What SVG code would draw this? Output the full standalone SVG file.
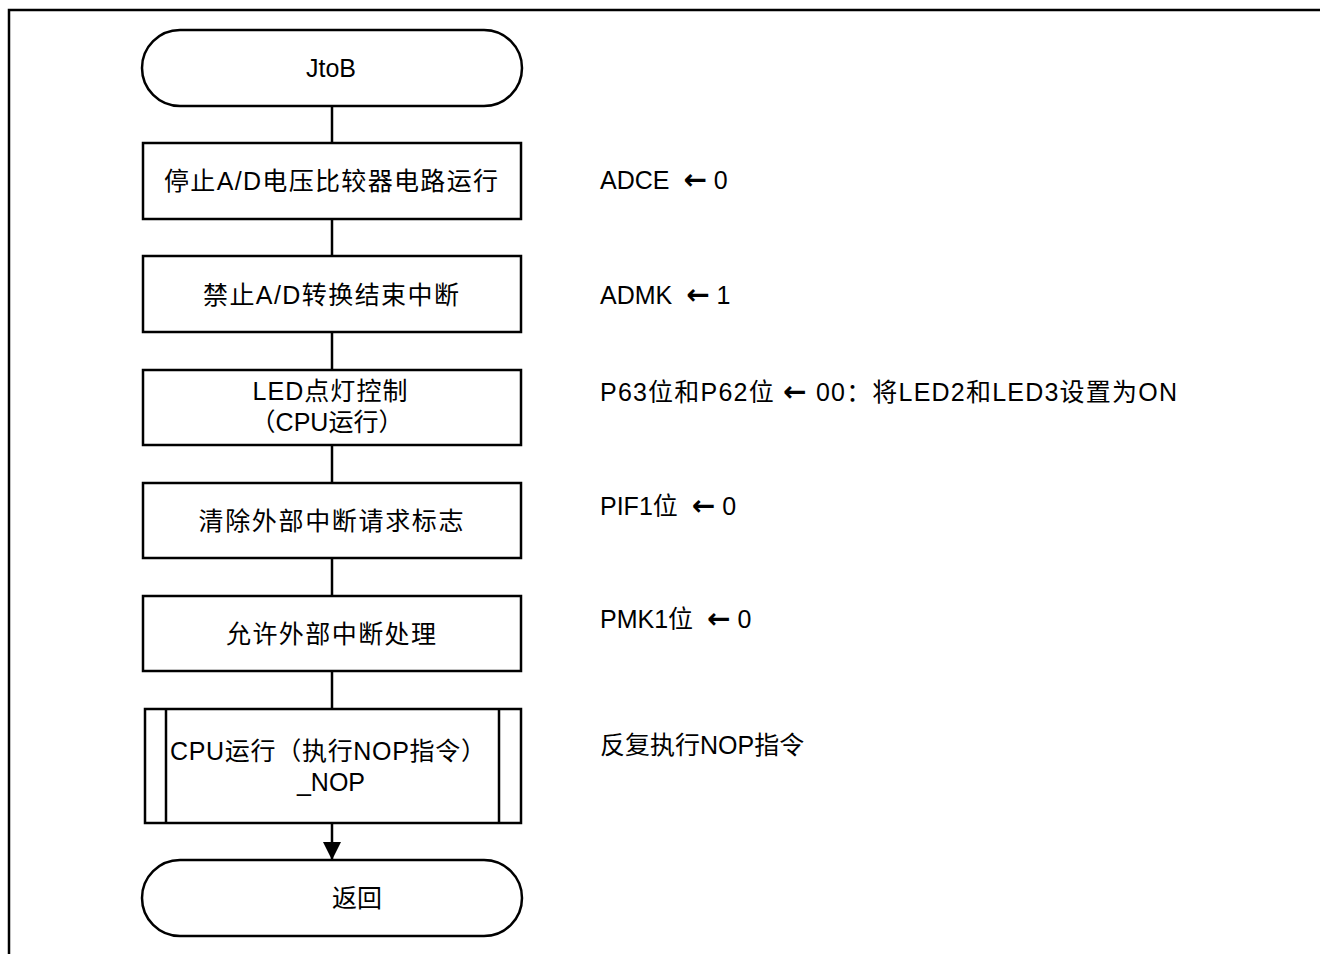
<svg xmlns="http://www.w3.org/2000/svg" width="1320" height="954" viewBox="0 0 1320 954">
<defs>
<style>
.s{fill:#fff;stroke:#000;stroke-width:2.5}
.l{fill:none;stroke:#000;stroke-width:2.5}
text{font-family:"Liberation Sans","Noto Sans CJK SC",sans-serif;font-size:25px;fill:#000}
.c{text-anchor:middle}
.ar{font-family:"DejaVu Sans",sans-serif;font-weight:bold;font-size:28px}
</style>
<marker id="ah" markerWidth="18" markerHeight="18" viewBox="0 0 18 18" refX="18" refY="9" orient="auto" markerUnits="userSpaceOnUse">
<path d="M0,0 L18,9 L0,18 Z" fill="#000"/>
</marker>
</defs>
<rect width="1320" height="954" fill="#fff"/>
<path d="M9,954 V10 H1320" class="l"/>
<g id="connectors">
<line x1="332" y1="106" x2="332" y2="143" class="l"/>
<line x1="332" y1="219" x2="332" y2="256" class="l"/>
<line x1="332" y1="332" x2="332" y2="370" class="l"/>
<line x1="332" y1="445" x2="332" y2="483" class="l"/>
<line x1="332" y1="558" x2="332" y2="596" class="l"/>
<line x1="332" y1="671" x2="332" y2="709" class="l"/>
<line x1="332" y1="823" x2="332" y2="860" class="l" marker-end="url(#ah)"/>
</g>
<g id="start">
<rect x="142" y="30" width="380" height="76" rx="38" ry="38" class="s"/>
<text x="331" y="77" class="c">JtoB</text>
</g>
<g id="n1">
<rect x="143" y="143" width="378" height="76" class="s"/>
<text x="331" y="190" class="c" textLength="334" lengthAdjust="spacing">停止A/D电压比较器电路运行</text>
<text x="600" y="189">ADCE <tspan class="ar" dx="7">←</tspan> 0</text>
</g>
<g id="n2">
<rect x="143" y="256" width="378" height="76" class="s"/>
<text x="331" y="304" class="c" textLength="256" lengthAdjust="spacing">禁止A/D转换结束中断</text>
<text x="600" y="304">ADMK <tspan class="ar" dx="7">←</tspan> 1</text>
</g>
<g id="n3">
<rect x="143" y="370" width="378" height="75" class="s"/>
<text x="330" y="400" class="c" textLength="155" lengthAdjust="spacing">LED点灯控制</text>
<text x="327" y="431" class="c">（CPU运行）</text>
<text x="600" y="401" textLength="577" lengthAdjust="spacing">P63位和P62位 <tspan class="ar">←</tspan> 00：将LED2和LED3设置为ON</text>
</g>
<g id="n4">
<rect x="143" y="483" width="378" height="75" class="s"/>
<text x="331" y="530" class="c" textLength="265" lengthAdjust="spacing">清除外部中断请求标志</text>
<text x="600" y="515">PIF1位 <tspan class="ar" dx="7">←</tspan> 0</text>
</g>
<g id="n5">
<rect x="143" y="596" width="378" height="75" class="s"/>
<text x="331" y="643" class="c" textLength="210" lengthAdjust="spacing">允许外部中断处理</text>
<text x="600" y="628">PMK1位 <tspan class="ar" dx="7">←</tspan> 0</text>
</g>
<g id="n6">
<rect x="145" y="709" width="376" height="114" class="s"/>
<line x1="166" y1="709" x2="166" y2="823" class="l"/>
<line x1="499" y1="709" x2="499" y2="823" class="l"/>
<text x="328" y="760" class="c" textLength="316" lengthAdjust="spacing">CPU运行（执行NOP指令）</text>
<text x="331" y="791" class="c">_NOP</text>
<text x="600" y="754">反复执行NOP指令</text>
</g>
<g id="end">
<rect x="142" y="860" width="380" height="76" rx="38" ry="38" class="s"/>
<text x="357" y="907" class="c">返回</text>
</g>
</svg>
